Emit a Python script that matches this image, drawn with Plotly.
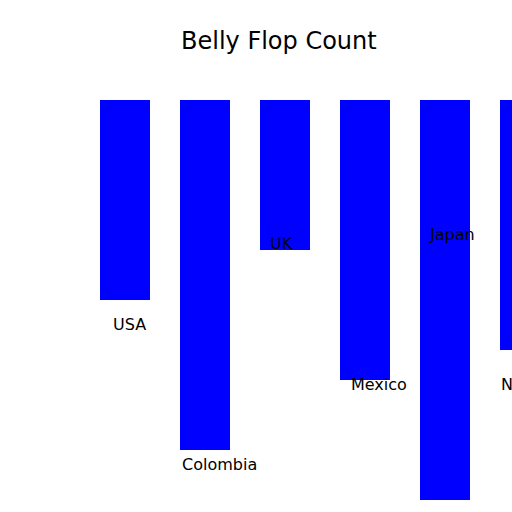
import plotly.graph_objects as go

# --- data
countries = ["USA", "Colombia", "UK", "Mexico", "Japan", "Norway"]
flop_counts = [200, 350, 150, 280, 400, 250]
label_values = [235, 375, 154, 295, 145, 295]
label_dx = [13, 2, 10, 11, 9, 1]

BAR_W = 0.625

fig = go.Figure()
fig.add_trace(go.Bar(
    x=countries, y=flop_counts, width=BAR_W,
    marker=dict(color="#0000ff", line=dict(width=0)),
    hoverinfo="skip",
))

# labels hang off the left edge of each bar (category index minus half a bar)
for i, (c, v) in enumerate(zip(countries, label_values)):
    fig.add_annotation(
        x=i - BAR_W / 2, y=v, xref="x", yref="y",
        text=c, showarrow=False,
        xanchor="left", yanchor="bottom",
        xshift=label_dx[i] - 1, borderpad=0,
        font=dict(family="DejaVu Sans", size=16, color="black"),
    )

fig.add_annotation(
    x=278.5 / 512, y=1 - 41 / 512, xref="paper", yref="paper",
    text="Belly Flop Count", showarrow=False,
    xanchor="center", yanchor="middle",
    font=dict(family="DejaVu Sans", size=24, color="black"),
)

fig.update_layout(
    width=512, height=512,
    margin=dict(l=0, r=0, t=0, b=0),
    paper_bgcolor="white", plot_bgcolor="white",
    showlegend=False,
    xaxis=dict(range=[-1.5625, 4.8375], visible=False, fixedrange=True),
    yaxis=dict(range=[412, -100], visible=False, fixedrange=True),
)

fig.write_html(
    "out.html",
    config={"displayModeBar": False, "staticPlot": True},
    post_script="document.body.style.margin='0';document.body.style.overflow='hidden';",
)
